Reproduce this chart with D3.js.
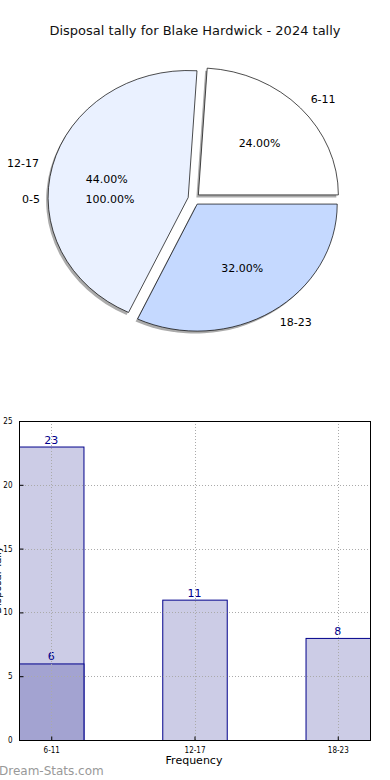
<!DOCTYPE html>
<html>
<head>
<meta charset="utf-8">
<script src="https://cdnjs.cloudflare.com/ajax/libs/d3/7.8.5/d3.min.js"></script>
<style>
  body { margin: 0; background: #fff; }
  svg { display: block; font-family: "DejaVu Sans", sans-serif; }
</style>
</head>
<body>
<script>
var w = 390,
    h = 780;

// pie data
var pieLabels = ["6-11", "12-17", "18-23"];
var pieValues = [24, 44, 32];
var pieColors = ["#ffffff", "#eaf1ff", "#c5d9ff"];
var emptyLabel = "0-5";
var emptyPct = "100.00%";

// bar data
var categories = ["6-11", "12-17", "18-23"];
var totals = [23, 11, 8];
var subset = [6, null, null];
var yTicks = [0, 5, 10, 15, 20, 25];

var svg = d3.select("body").append("svg")
    .attr("width", w)
    .attr("height", h);

svg.append("text")
    .attr("x", 195)
    .attr("y", 35)
    .style("text-anchor", "middle")
    .style("font-size", "13px")
    .attr("fill", "#111")
    .text("Disposal tally for Blake Hardwick - 2024 tally");

// ---- pie ----
var cx = 194, cy = 199, rx = 140, ry = 127, explode = 6;

// start at 3 o'clock, go counter-clockwise like matplotlib
var pie = d3.pie().sort(null)
    .startAngle(Math.PI / 2)
    .endAngle(Math.PI / 2 - 2 * Math.PI);
var arcs = pie(pieValues);

var arc = d3.arc().innerRadius(0).outerRadius(1);

function mid(d) {
  // angle measured from 3 o'clock, counter-clockwise
  return Math.PI / 2 - (d.startAngle + d.endAngle) / 2;
}
function offset(d) {
  var a = mid(d);
  return [cx + explode * Math.cos(a), cy - explode * Math.sin(a)];
}

var pieG = svg.append("g");

// shadow
pieG.selectAll("path.shadow")
    .data(arcs)
    .enter().append("path")
    .attr("class", "shadow")
    .attr("d", arc)
    .attr("transform", function(d) {
      var o = offset(d);
      return "translate(" + (o[0] - 2) + "," + (o[1] + 2.5) + ") scale(" + rx + "," + ry + ")";
    })
    .attr("fill", "#888")
    .attr("opacity", 0.7);

pieG.selectAll("path.slice")
    .data(arcs)
    .enter().append("path")
    .attr("class", "slice")
    .attr("d", arc)
    .attr("transform", function(d) {
      var o = offset(d);
      return "translate(" + o[0] + "," + o[1] + ") scale(" + rx + "," + ry + ")";
    })
    .attr("fill", function(d, i) { return pieColors[i]; })
    .attr("stroke", "#000")
    .attr("stroke-width", 0.7)
    .attr("vector-effect", "non-scaling-stroke");

pieG.selectAll("text.lab")
    .data(arcs)
    .enter().append("text")
    .attr("class", "lab")
    .attr("x", function(d) { return offset(d)[0] + 1.1 * rx * Math.cos(mid(d)); })
    .attr("y", function(d) { return offset(d)[1] - 1.1 * ry * Math.sin(mid(d)) + 4; })
    .style("text-anchor", function(d) { return Math.cos(mid(d)) >= 0 ? "start" : "end"; })
    .style("font-size", "11px")
    .text(function(d, i) { return pieLabels[i]; });

pieG.selectAll("text.pct")
    .data(arcs)
    .enter().append("text")
    .attr("class", "pct")
    .attr("x", function(d) { return offset(d)[0] + 0.6 * rx * Math.cos(mid(d)); })
    .attr("y", function(d) { return offset(d)[1] - 0.6 * ry * Math.sin(mid(d)) + 4; })
    .style("text-anchor", "middle")
    .style("font-size", "11px")
    .text(function(d) { return (d.value / d3.sum(pieValues) * 100).toFixed(2) + "%"; });

// zero-size slice labels (drawn at the left)
pieG.append("text")
    .attr("x", cx - 1.1 * rx)
    .attr("y", cy + 4)
    .style("text-anchor", "end")
    .style("font-size", "11px")
    .text(emptyLabel);
pieG.append("text")
    .attr("x", cx - 0.6 * rx)
    .attr("y", cy + 4)
    .style("text-anchor", "middle")
    .style("font-size", "11px")
    .text(emptyPct);

// ---- bars ----
var plotL = 19, plotR = 370, plotT = 421, plotB = 740;
var barW = 0.45;

var x = d3.scaleLinear()
    .domain([-barW / 2, categories.length - 1 + barW / 2])
    .range([plotL, plotR]);
var y = d3.scaleLinear()
    .domain([0, 25])
    .range([plotB, plotT]);

var bars = svg.append("g");

bars.selectAll("rect.total")
    .data(totals)
    .enter().append("rect")
    .attr("class", "total")
    .attr("x", function(d, i) { return x(i - barW / 2) + 0.5; })
    .attr("width", function() { return x(barW) - x(0); })
    .attr("y", function(d) { return y(d) + 0.5; })
    .attr("height", function(d) { return y(0) - y(d); })
    .attr("fill", "#ccccE6")
    .attr("stroke", "#00008b")
    .attr("stroke-width", 1);

var subData = subset.map(function(v, i) { return {i: i, v: v}; })
    .filter(function(d) { return d.v != null; });

bars.selectAll("rect.sub")
    .data(subData)
    .enter().append("rect")
    .attr("class", "sub")
    .attr("x", function(d) { return x(d.i - barW / 2) + 0.5; })
    .attr("width", function() { return x(barW) - x(0); })
    .attr("y", function(d) { return y(d.v) + 0.5; })
    .attr("height", function(d) { return y(0) - y(d.v); })
    .attr("fill", "#a3a3d1")
    .attr("stroke", "#00008b")
    .attr("stroke-width", 1);

// grid on top
var grid = svg.append("g")
    .attr("stroke", "#aaa")
    .attr("stroke-width", 1)
    .attr("stroke-dasharray", "1,2");
grid.selectAll("line.gy")
    .data(yTicks.slice(1, -1))
    .enter().append("line")
    .attr("x1", plotL).attr("x2", plotR)
    .attr("y1", function(d) { return Math.round(y(d)) + 0.5; })
    .attr("y2", function(d) { return Math.round(y(d)) + 0.5; });
grid.selectAll("line.gx")
    .data(categories)
    .enter().append("line")
    .attr("x1", function(d, i) { return Math.round(x(i)) + 0.5; })
    .attr("x2", function(d, i) { return Math.round(x(i)) + 0.5; })
    .attr("y1", plotT).attr("y2", plotB);

// value labels
bars.selectAll("text.tv")
    .data(totals)
    .enter().append("text")
    .attr("x", function(d, i) { return x(i); })
    .attr("y", function(d) { return y(d) - 3; })
    .style("text-anchor", "middle")
    .style("font-size", "11px")
    .attr("fill", "#00008b")
    .text(function(d) { return d; });
bars.selectAll("text.sv")
    .data(subData)
    .enter().append("text")
    .attr("x", function(d) { return x(d.i); })
    .attr("y", function(d) { return y(d.v) - 3; })
    .style("text-anchor", "middle")
    .style("font-size", "11px")
    .attr("fill", "#00008b")
    .text(function(d) { return d.v; });

// frame
svg.append("rect")
    .attr("x", plotL + 0.5).attr("y", plotT + 0.5)
    .attr("width", plotR - plotL).attr("height", plotB - plotT)
    .attr("fill", "none")
    .attr("stroke", "#000")
    .attr("stroke-width", 1);

// axes (ticks inside, like matplotlib classic)
var yAxis = d3.axisLeft(y).tickValues(yTicks).tickSize(-4).tickPadding(7);
var yg = svg.append("g")
    .attr("transform", "translate(" + (plotL + 0.5) + ",0)")
    .call(yAxis);
yg.select(".domain").remove();
yg.selectAll("text").style("font-size", "8px").style("font-family", "DejaVu Sans Condensed, DejaVu Sans").attr("fill", "#000");

var xAxis = d3.axisBottom(x).tickValues(d3.range(categories.length))
    .tickFormat(function(i) { return categories[i]; })
    .tickSize(-4).tickPadding(7);
var xg = svg.append("g")
    .attr("transform", "translate(0," + (plotB + 0.5) + ")")
    .call(xAxis);
xg.select(".domain").remove();
xg.selectAll("text").style("font-size", "8px").style("font-family", "DejaVu Sans Condensed, DejaVu Sans").attr("fill", "#000");

svg.append("text")
    .attr("x", 194)
    .attr("y", 764)
    .style("text-anchor", "middle")
    .style("font-size", "11px")
    .text("Frequency");

// y label, mostly outside the left edge as in the source
svg.append("text")
    .attr("x", -580)
    .attr("y", 1)
    .attr("transform", "rotate(-90)")
    .style("text-anchor", "middle")
    .style("font-size", "10px")
    .text("Disposal Tally");

svg.append("text")
    .attr("x", -1)
    .attr("y", 775)
    .style("font-size", "12px")
    .attr("fill", "#999")
    .text("Dream-Stats.com");
</script>
</body>
</html>
